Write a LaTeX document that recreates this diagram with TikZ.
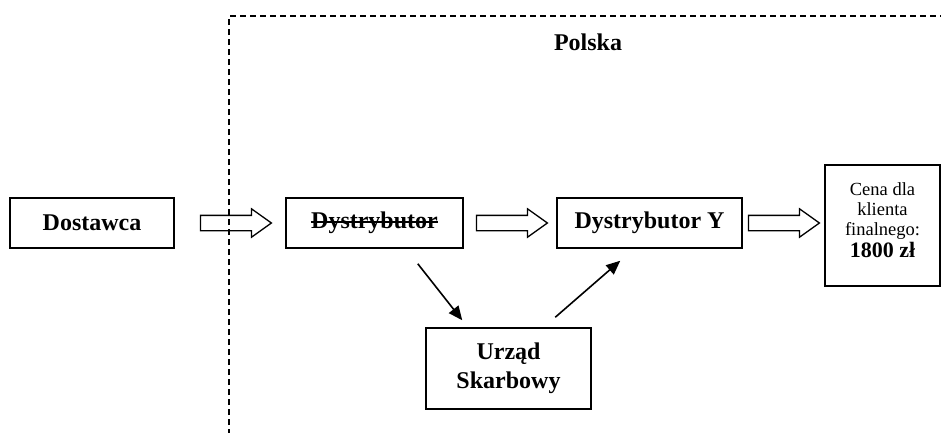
\documentclass[tikz,border=0pt]{standalone}
\usepackage{fontspec}
\setmainfont{Liberation Serif}
\usetikzlibrary{shapes.arrows,arrows.meta,calc}
\begin{document}
\begin{tikzpicture}[x=1pt,y=-1pt,
  bfont/.style={font=\fontsize{24}{29}\selectfont\bfseries},
  box/.style={draw,line width=1.5pt,inner sep=2pt,align=center,bfont},
  pricebox/.style={draw,line width=1.5pt,inner sep=2pt,align=center,
    font=\fontsize{18.5}{20}\selectfont},
  harrow/.style={single arrow,draw,line width=1.3pt,inner sep=7pt,
    minimum width=27pt,minimum height=71pt,single arrow head extend=6.5pt,
    single arrow tip angle=71,anchor=tail},
  thinarrow/.style={line width=1.6pt,-{Triangle[length=14pt,width=12pt]}},
  strike/.style={line width=1.8pt},
  frame/.style={line width=1.4pt,dash pattern=on 6pt off 4pt}]
\useasboundingbox (0,0) rectangle (941,432);
\clip (0,0) rectangle (941,432);
\fill[white] (0,0) rectangle (941,432);
\draw[frame] (229,445) -- (229,16) -- (960,16);
\node[bfont] (polska) at (588,42) {Polska};
\node[box,minimum width=164pt,minimum height=50pt] (dost) at (92,223) {Dostawca};
\node[box,minimum width=177pt,minimum height=50pt] (dyst) at (374.5,223) {};
\node[bfont,inner sep=0pt] (dystlbl) at (dyst.center) {Dystrybutor};
\draw[strike] ($(dystlbl.base west)+(0,-7)$) -- ($(dystlbl.base east)+(0,-7)$);
\node[box,minimum width=185pt,minimum height=50pt] (dysty) at (649.5,223) {Dystrybutor Y};
\node[pricebox,minimum width=115pt,minimum height=121pt,text depth=10pt] (cena) at (882.5,225.5)
  {Cena dla\\klienta\\finalnego:\\[2pt]{\fontsize{22}{24}\selectfont\bfseries 1800 zł}};
\node[box,minimum width=165pt,minimum height=81pt] (urzad) at (508.5,368.5) {Urząd\\Skarbowy};
\node[harrow] (a1) at ($(dost.east)+(25,0)$) {};
\node[harrow] (a2) at ($(dyst.east)+(12,0)$) {};
\node[harrow] (a3) at ($(dysty.east)+(5,0)$) {};
\coordinate (s1) at ($(dyst.south east)+(-46,15)$);
\coordinate (e1) at ($(urzad.north west)+(37,-7)$);
\coordinate (s2) at ($(urzad.north west)+(130,-10)$);
\coordinate (e2) at ($(dysty.south west)+(64,12)$);
\draw[thinarrow] (s1) -- (e1);
\draw[thinarrow] (s2) -- (e2);
\end{tikzpicture}
\end{document}
